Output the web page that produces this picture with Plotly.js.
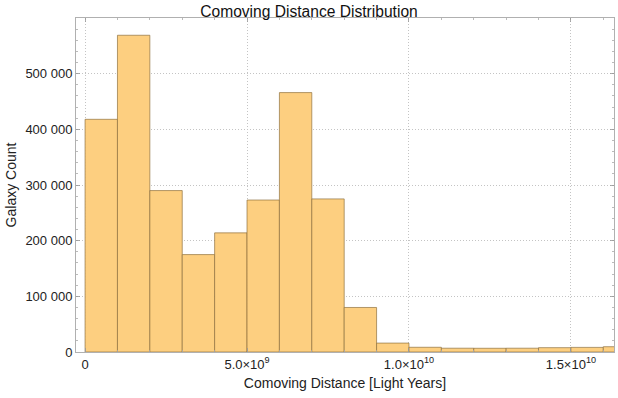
<!DOCTYPE html>
<html>
<head>
<meta charset="utf-8">
<script src="https://cdn.plot.ly/plotly-3.0.1.min.js"></script>
<style>html,body{margin:0;padding:0;background:#fff;}#chart{width:618px;height:398px;}</style>
</head>
<body>
<div id="chart"></div>
<script>
// Histogram bins (light years) and galaxy counts
const binStarts = [0, 1e9, 2e9, 3e9, 4e9, 5e9, 6e9, 7e9, 8e9, 9e9, 10e9, 11e9, 12e9, 13e9, 14e9, 15e9, 16e9];
const binWidth = 1e9;
const counts = [418000, 569000, 290000, 175000, 214000, 273000, 466000, 275000, 80000, 16000, 8500, 6800, 6700, 6800, 7800, 8300, 9500];

const xTickVals = [0, 5e9, 1e10, 1.5e10];
const xTickText = ['0', '5.0×10<sup>9</sup>', '1.0×10<sup>10</sup>', '1.5×10<sup>10</sup>'];
const yTickVals = [0, 100000, 200000, 300000, 400000, 500000];
const yTickText = ['0', '100 000', '200 000', '300 000', '400 000', '500 000'];

const trace = {
  type: 'bar',
  x: binStarts,
  y: counts,
  width: binWidth,
  offset: 0,
  marker: {color: '#FDCF80', line: {color: 'rgba(140,110,60,0.85)', width: 0.8}},
  hoverinfo: 'x+y'
};

const fam = 'Liberation Sans, Arial, sans-serif';

const layout = {
  width: 618, height: 398,
  margin: {l: 76, r: 4, t: 18, b: 46},
  paper_bgcolor: '#fff', plot_bgcolor: '#fff',
  font: {family: fam, size: 13, color: '#222'},
  bargap: 0,
  showlegend: false,
  title: {text: 'Comoving Distance Distribution', font: {family: fam, size: 15.6, color: '#111'}, x: 0.5, xanchor: 'center', y: 0.972, yanchor: 'middle'},
  xaxis: {
    range: [-0.28e9, 16.33e9],
    tickvals: xTickVals, ticktext: xTickText,
    ticks: 'inside', ticklen: 4, tickcolor: '#999', tickwidth: 0.8,
    minor: {dtick: 1e9, tick0: 0, ticks: 'inside', ticklen: 2, tickcolor: '#aaa', showgrid: false},
    showgrid: true, gridcolor: '#c4c4c4', griddash: '1px,2px', gridwidth: 1,
    showline: true, linecolor: '#b0b0b0', linewidth: 1, mirror: 'ticks',
    zeroline: false,
    tickfont: {family: fam, size: 13, color: '#222'},
    title: {text: 'Comoving Distance [Light Years]', font: {family: fam, size: 14, color: '#222'}, standoff: 7}
  },
  yaxis: {
    range: [0, 600000],
    tickvals: yTickVals, ticktext: yTickText,
    ticks: 'inside', ticklen: 4, tickcolor: '#999', tickwidth: 0.8,
    minor: {dtick: 20000, tick0: 0, ticks: 'inside', ticklen: 2, tickcolor: '#aaa', showgrid: false},
    showgrid: true, gridcolor: '#c4c4c4', griddash: '1px,2px', gridwidth: 1,
    showline: true, linecolor: '#b0b0b0', linewidth: 1, mirror: 'ticks',
    zeroline: false,
    tickfont: {family: fam, size: 13, color: '#222'},
    title: {text: 'Galaxy Count', font: {family: fam, size: 14, color: '#222'}, standoff: 5}
  }
};

Plotly.newPlot('chart', [trace], layout, {displayModeBar: false, staticPlot: true});
</script>
</body>
</html>
